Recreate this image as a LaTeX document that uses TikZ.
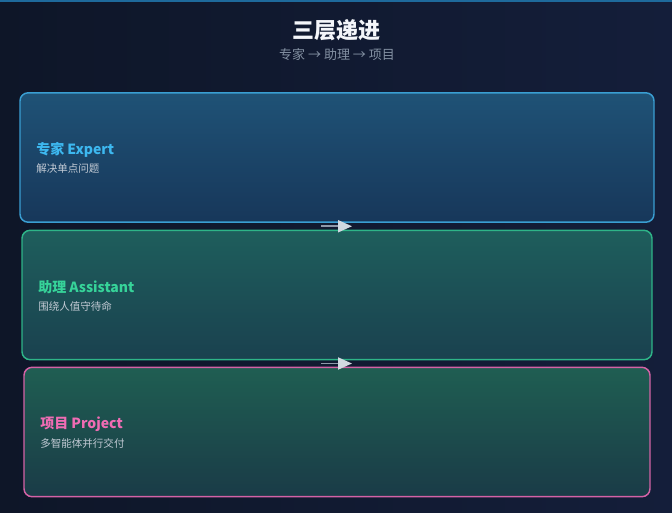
\documentclass[tikz,border=0pt]{standalone}
\usepackage{fontspec}
\setmainfont{Noto Sans CJK SC}
\usetikzlibrary{arrows.meta, calc}

\definecolor{bgA}{HTML}{0E1628}
\definecolor{bgB}{HTML}{141E3A}
\definecolor{topline}{HTML}{1E6A9C}
\definecolor{titlecol}{HTML}{F4F6FA}
\definecolor{subcol}{HTML}{8491A3}
\definecolor{desccol}{HTML}{C2CAD4}
\definecolor{expertline}{HTML}{3A9ED2}
\definecolor{expertA}{HTML}{1F5276}
\definecolor{expertB}{HTML}{17375A}
\definecolor{expertcol}{HTML}{3DB8F0}
\definecolor{assistline}{HTML}{2EB488}
\definecolor{assistA}{HTML}{1E5E5C}
\definecolor{assistB}{HTML}{1A414F}
\definecolor{assistcol}{HTML}{36D399}
\definecolor{projline}{HTML}{D462A6}
\definecolor{projA}{HTML}{1F5E52}
\definecolor{projB}{HTML}{1A3B47}
\definecolor{projcol}{HTML}{F06CB4}
\definecolor{flowline}{HTML}{8E99AA}
\definecolor{flowtip}{HTML}{D2D9E1}

\tikzset{
  card/.style={draw, line width=1.1pt, rounded corners=6pt, minimum height=97pt},
  cardtitle/.style={anchor=west, font=\fontsize{10.5}{12}\selectfont\bfseries, inner sep=0pt},
  carddesc/.style={anchor=west, font=\fontsize{7.9}{9}\selectfont, text=desccol, inner sep=0pt},
  flow/.style={draw=flowline, line width=1.4pt, -{Triangle[length=10.5pt, width=9pt, color=flowtip]}}
}

\begin{document}
\begin{tikzpicture}[x=0.75pt,y=0.75pt,yscale=-1,xscale=1]
\useasboundingbox (0,0) rectangle (672,512);
\shade [left color=bgA, right color=bgB] (0,0) rectangle (672,512);
\fill [topline] (0,0) rectangle (672,2);
% heading
\draw (336,30) node [font=\fontsize{16.5}{18}\selectfont\bfseries, text=titlecol] (title) {三层递进};
\draw (337,55) node [font=\fontsize{9.75}{11}\selectfont, text=subcol] (subtitle) {专家 → 助理 → 项目};
% cards
\node [card, draw=expertline, top color=expertA, bottom color=expertB, minimum width=475.5pt] (expert) at (337,157.5) {};
\node [card, draw=assistline, top color=assistA, bottom color=assistB, minimum width=472.5pt] (assistant) at (337,295) {};
\node [card, draw=projline, top color=projA, bottom color=projB, minimum width=469.5pt] (project) at (337,432) {};
% labels
\draw (36,150) node [cardtitle, text=expertcol] (expertT) {专家 Expert};
\draw (36,169) node [carddesc] (expertD) {解决单点问题};
\draw (38,287) node [cardtitle, text=assistcol] (assistT) {助理 Assistant};
\draw (38,306) node [carddesc] (assistD) {围绕人值守待命};
\draw (40,424) node [cardtitle, text=projcol] (projT) {项目 Project};
\draw (40,443) node [carddesc] (projD) {多智能体并行交付};
% arrows in the gaps
\coordinate (gapA) at ($(expert.south)!0.5!(assistant.north)$);
\coordinate (gapB) at ($(assistant.south)!0.5!(project.north)$);
\draw [flow] ($(gapA)+(-16,0)$) -- ($(gapA)+(15,0)$);
\draw [flow] ($(gapB)+(-16,0)$) -- ($(gapB)+(15,0)$);
\end{tikzpicture}
\end{document}
